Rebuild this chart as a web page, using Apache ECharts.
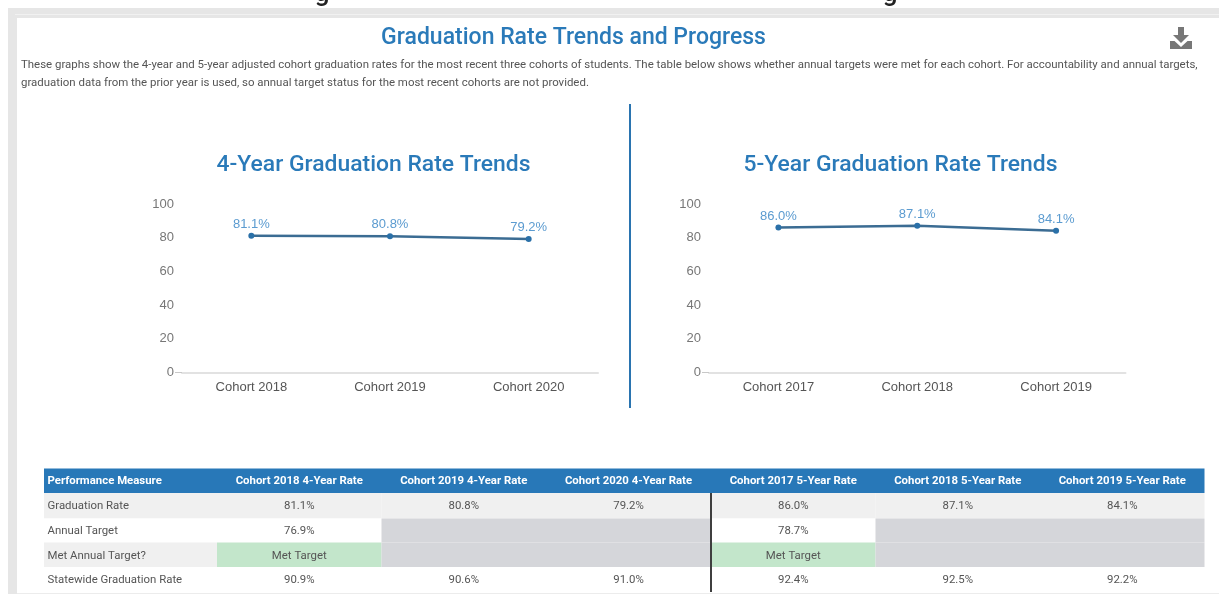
<!DOCTYPE html>
<html>
<head>
<meta charset="utf-8">
<style>html,body{margin:0;padding:0;background:#fff}#c{width:1219px;height:594px}</style>
<script src="https://cdn.jsdelivr.net/npm/echarts@6/dist/echarts.min.js"></script>
</head>
<body>
<div id="c"></div>
<script>
const mainTitle = 'Graduation Rate Trends and Progress';
const introLines = [
  'These graphs show the 4-year and 5-year adjusted cohort graduation rates for the most recent three cohorts of students. The table below shows whether annual targets were met for each cohort. For accountability and annual targets,',
  'graduation data from the prior year is used, so annual target status for the most recent cohorts are not provided.'
];
const title4 = '4-Year Graduation Rate Trends';
const title5 = '5-Year Graduation Rate Trends';
const cohorts4 = ['Cohort 2018', 'Cohort 2019', 'Cohort 2020'];
const rates4 = [81.1, 80.8, 79.2];
const cohorts5 = ['Cohort 2017', 'Cohort 2018', 'Cohort 2019'];
const rates5 = [86.0, 87.1, 84.1];
const tableHeader = ['Performance Measure', 'Cohort 2018 4-Year Rate', 'Cohort 2019 4-Year Rate', 'Cohort 2020 4-Year Rate', 'Cohort 2017 5-Year Rate', 'Cohort 2018 5-Year Rate', 'Cohort 2019 5-Year Rate'];
const rowGraduation = ['Graduation Rate', '81.1%', '80.8%', '79.2%', '86.0%', '87.1%', '84.1%'];
const rowTarget = ['Annual Target', '76.9%', null, null, '78.7%', null, null];
const rowMet = ['Met Annual Target?', 'Met Target', null, null, 'Met Target', null, null];
const rowState = ['Statewide Graduation Rate', '90.9%', '90.6%', '91.0%', '92.4%', '92.5%', '92.2%'];

const colEdges = [44, 217, 381.5, 546, 711, 875.5, 1040, 1204.5];
const rowEdges = [468.5, 493, 518.5, 542.5, 567, 592];
const rowBgs = ['#f0f0f0', '#ffffff', '#f0f0f0', '#ffffff'];
const BLUE = '#2a7ab9';
const TXT = '#555555';
const ROBOTO = 'Roboto, sans-serif';

function rect(x, y, w, h, fill, z) {
  return {type: 'rect', silent: true, z: z || 1, shape: {x, y, width: w, height: h}, style: {fill}};
}
function text(x, y, t, font, fill, align, va) {
  return {type: 'text', silent: true, z: 5, style: {x, y, text: t, font, fill, textAlign: align || 'center', textVerticalAlign: va || 'middle'}};
}
function poly(points, fill) {
  return {type: 'polygon', silent: true, z: 5, shape: {points}, style: {fill}};
}

const g = [];
// panel frame
g.push(rect(8, 8, 1211, 10, '#e6e6e6'));
g.push(rect(15, 14, 1204, 1, '#f1f1f1', 2));
g.push(rect(8, 8, 9, 586, '#e6e6e6'));
g.push(rect(17, 593, 1202, 1, '#ececec'));
// clipped letters of the heading above the panel
g.push(text(322, -19, 'g', '500 26px ' + ROBOTO, '#222', 'center', 'top'));
g.push(text(890, -19, 'g', '500 26px ' + ROBOTO, '#222', 'center', 'top'));
// headings and intro
g.push(text(573.5, 38.5, mainTitle, '500 23px ' + ROBOTO, BLUE));
g.push(text(21, 65, introLines[0], '11.45px ' + ROBOTO, TXT, 'left'));
g.push(text(21, 83, introLines[1], '11.45px ' + ROBOTO, TXT, 'left'));
g.push(text(373.5, 165, title4, '500 22.9px ' + ROBOTO, BLUE));
g.push(text(900.5, 165, title5, '500 22.9px ' + ROBOTO, BLUE));
// chart divider
g.push(rect(629, 104, 2, 304, '#2a74b0'));
// download icon
g.push(poly([[1178, 27], [1184, 27], [1184, 35], [1189, 35], [1181, 43], [1173, 35], [1178, 35]], '#777777'));
g.push(poly([[1170, 41], [1174.5, 41], [1181, 47], [1187.5, 41], [1192, 41], [1192, 49], [1170, 49]], '#777777'));

// table
const tableRows = [rowGraduation, rowTarget, rowMet, rowState];
const TABLE_FONT = '11.4px ' + ROBOTO;
const HEAD_FONT = 'bold 11.4px ' + ROBOTO;
g.push(rect(colEdges[0], rowEdges[0], colEdges[7] - colEdges[0], rowEdges[1] - rowEdges[0], '#2878b8'));
tableHeader.forEach((h, c) => {
  const x0 = colEdges[c], x1 = colEdges[c + 1];
  const y = (rowEdges[0] + rowEdges[1]) / 2;
  if (c === 0) g.push(text(x0 + 3.5, y, h, HEAD_FONT, '#ffffff', 'left'));
  else g.push(text((x0 + x1) / 2, y, h, HEAD_FONT, '#ffffff'));
});
tableRows.forEach((row, r) => {
  const y0 = rowEdges[r + 1], y1 = rowEdges[r + 2];
  const ty = (y0 + y1) / 2 + (r === 0 ? 0.3 : 1);
  row.forEach((v, c) => {
    const x0 = colEdges[c], x1 = colEdges[c + 1];
    let bg = rowBgs[r];
    if (v === null) bg = '#d5d6da';
    else if (v === 'Met Target') bg = '#c3e6cb';
    g.push(rect(x0, y0, x1 - x0, y1 - y0, bg));
    if (v === null) return;
    if (c === 0) g.push(text(x0 + 3.5, ty, v, TABLE_FONT, TXT, 'left'));
    else g.push(text((x0 + x1) / 2, ty, v, TABLE_FONT, TXT));
  });
});
g.push(rect(710, 493, 2, 99, '#3f3f3f', 4));

function xAxis(idx, cats) {
  return {
    type: 'category', gridIndex: idx, data: cats,
    axisLine: {show: true, lineStyle: {color: '#e2e2e2', width: 2}},
    axisTick: {show: false},
    axisLabel: {color: '#555555', fontFamily: 'Liberation Sans', fontSize: 13, margin: 8}
  };
}
function yAxis(idx) {
  return {
    type: 'value', gridIndex: idx, min: 0, max: 100, interval: 20,
    axisLine: {show: false},
    axisTick: {show: true, length: 7, customValues: [0], lineStyle: {color: '#c8c8c8', width: 1}},
    splitLine: {show: false},
    axisLabel: {color: '#777777', fontFamily: 'Liberation Sans', fontSize: 13, margin: 8}
  };
}
function lineSeries(idx, values) {
  return {
    type: 'line', xAxisIndex: idx, yAxisIndex: idx, data: values, silent: true,
    symbol: 'circle', symbolSize: 6, animation: false,
    lineStyle: {color: '#3b6c93', width: 2.5},
    itemStyle: {color: '#2a70a8'},
    label: {show: true, position: 'top', distance: 2, color: '#5b9bd0', fontFamily: 'Liberation Sans', fontSize: 13,
      formatter: p => p.value.toFixed(1) + '%'}
  };
}

const chart = echarts.init(document.getElementById('c'), null, {renderer: 'canvas'});
chart.setOption({
  animation: false,
  backgroundColor: '#ffffff',
  grid: [
    {left: 182, right: 621, top: 204, bottom: 221.5},
    {left: 709, right: 93.5, top: 204, bottom: 221.5}
  ],
  xAxis: [xAxis(0, cohorts4), xAxis(1, cohorts5)],
  yAxis: [yAxis(0), yAxis(1)],
  series: [lineSeries(0, rates4), lineSeries(1, rates5)],
  graphic: {elements: g}
});
</script>
</body>
</html>
